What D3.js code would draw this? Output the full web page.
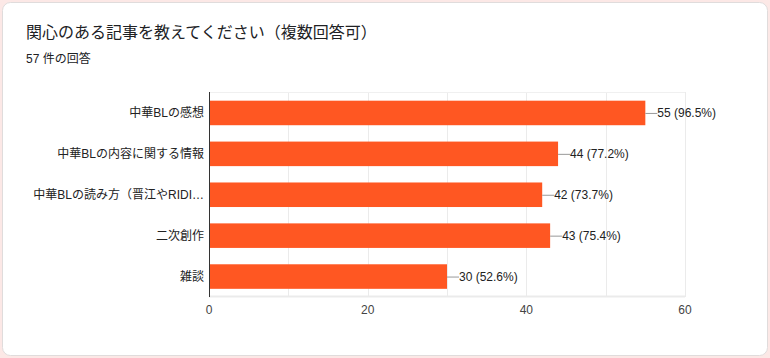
<!DOCTYPE html>
<html><head><meta charset="utf-8">
<script src="https://cdn.jsdelivr.net/npm/d3@7/dist/d3.min.js"></script>
<style>
html,body{margin:0;padding:0;background:#fce8e6;}
svg{display:block;}
</style></head>
<body>
<svg id="c" width="770" height="358"></svg>
<script>
const title = "関心のある記事を教えてください（複数回答可）";
const subtitle = "57 件の回答";
const categories = ["中華BLの感想","中華BLの内容に関する情報","中華BLの読み方（晋江やRIDI…","二次創作","雑談"];
const counts = [55,44,42,43,30];
const percents = ["96.5%","77.2%","73.7%","75.4%","52.6%"];
const xTicks = [0,20,40,60];
const gridValues = [10,20,30,40,50,60];

const svg = d3.select("#c");
const font = "'Liberation Sans', Arial, 'Noto Sans CJK JP', sans-serif";

svg.append("rect").attr("x",2.5).attr("y",2.5).attr("width",765).attr("height",353)
  .attr("rx",8).attr("fill","#fff").attr("stroke","#e0dcdc");

svg.append("text").attr("x",26).attr("y",38).text(title)
  .attr("font-family",font).attr("font-size",16).attr("fill","#202124");
svg.append("text").attr("x",26).attr("y",63).text(subtitle)
  .attr("font-family",font).attr("font-size",12).attr("fill","#202124");

const x = d3.scaleLinear().domain([0,60]).range([209,685]);
const y = d3.scaleBand().domain(categories).range([92.5,297]).paddingInner(0.4).paddingOuter(0.2);

const g = svg.append("g");
// grid
g.selectAll(".grid").data(gridValues).join("line")
  .attr("x1",d=>Math.round(x(d))+0.5).attr("x2",d=>Math.round(x(d))+0.5)
  .attr("y1",92).attr("y2",297)
  .attr("stroke","#ebebeb").attr("stroke-width",1);
g.append("line").attr("x1",209).attr("x2",685).attr("y1",92.5).attr("y2",92.5).attr("stroke","#f0f0f0");
g.append("line").attr("x1",209).attr("x2",685).attr("y1",296.5).attr("y2",296.5).attr("stroke","#ebebeb").attr("stroke-width",2);

// bars
g.selectAll(".bar").data(counts).join("rect")
  .attr("x",x(0)).attr("y",(d,i)=>y(categories[i]))
  .attr("width",d=>x(d)-x(0)).attr("height",y.bandwidth())
  .attr("fill","#ff5722");

// axis line
g.append("line").attr("x1",209.5).attr("x2",209.5).attr("y1",92).attr("y2",297)
  .attr("stroke","#333").attr("stroke-width",1);

// category labels
g.selectAll(".cat").data(categories).join("text")
  .attr("x",204).attr("y",d=>y(d)+y.bandwidth()/2).attr("dy","0.35em")
  .attr("text-anchor","end").text(d=>d)
  .attr("font-family",font).attr("font-size",12).attr("fill","#222");

// value label connectors
g.selectAll(".conn").data(counts).join("line")
  .attr("x1",d=>x(d)).attr("x2",d=>x(d)+12)
  .attr("y1",(d,i)=>y(categories[i])+y.bandwidth()/2+0.5)
  .attr("y2",(d,i)=>y(categories[i])+y.bandwidth()/2+0.5)
  .attr("stroke","#999");
g.selectAll(".val").data(counts).join("text")
  .attr("x",d=>x(d)+12).attr("y",(d,i)=>y(categories[i])+y.bandwidth()/2).attr("dy","0.35em")
  .text((d,i)=>`${d} (${percents[i]})`)
  .attr("font-family",font).attr("font-size",12).attr("fill","#222");

// x ticks
g.selectAll(".tick").data(xTicks).join("text")
  .attr("x",d=>x(d)).attr("y",314).attr("text-anchor","middle").text(d=>d)
  .attr("font-family",font).attr("font-size",12).attr("fill","#444");
</script>
</body></html>
